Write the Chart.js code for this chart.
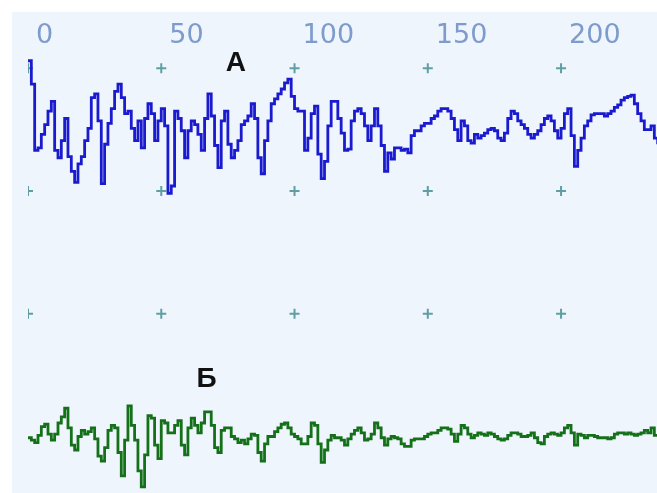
<!DOCTYPE html>
<html>
<head>
<meta charset="utf-8">
<script src="https://cdn.jsdelivr.net/npm/chart.js@4"></script>
<style>
  body { margin: 0; background: #fff; }
  #wrap {
    position: absolute; left: 12px; top: 12px;
    width: 645px; height: 481px;
    background: #eff5fc;
  }
</style>
</head>
<body>
<div id="wrap"><canvas id="sig"></canvas></div>
<script>
const xTicks = [0, 50, 100, 150, 200];
const markerRows = [100, 200, 300];
const STEP = 1.25;
const seriesNames = ["А", "Б"];

const seriesA = [
  306, 287, 233, 235, 246, 254, 265, 273, 233, 227,
  241, 259, 228, 216, 207, 222, 228, 241, 251, 276,
  279, 257, 206, 238, 255, 267, 281, 287, 276, 263,
  265, 251, 241, 257, 235, 259, 271, 263, 241, 257,
  267, 253, 198, 204, 265, 259, 249, 227, 249, 257,
  254, 246, 233, 259, 279, 261, 237, 219, 257, 265,
  238, 227, 233, 241, 254, 257, 261, 271, 259, 227,
  214, 241, 257, 271, 275, 279, 283, 288, 291, 277,
  267, 265, 265, 233, 243, 263, 269, 230, 210, 224,
  253, 273, 273, 259, 247, 233, 234, 257, 265, 267,
  263, 253, 241, 253, 267, 253, 237, 216, 231, 226,
  235, 235, 233, 234, 231, 245, 249, 249, 253, 255,
  255, 259, 261, 265, 267, 267, 265, 259, 250, 241,
  257, 253, 241, 239, 246, 243, 245, 247, 250, 251,
  249, 243, 241, 247, 259, 265, 263, 257, 254, 251,
  246, 243, 246, 249, 254, 259, 261, 257, 249, 243,
  251, 263, 267, 245, 220, 233, 243, 253, 257, 262,
  263, 263, 263, 261, 263, 265, 268, 270, 274, 276,
  277, 278, 271, 263, 257, 250, 250, 253, 243, 238
];

const seriesB = [
  -1, -3, -5, 1, 8, 10, 2, -3, 2, 11,
  16, 23, 7, -7, -11, 0, 5, 2, 4, 7,
  -2, -16, -20, -9, 5, 9, 7, -13, -32, -3,
  25, 9, -3, -28, -41, -15, 17, 15, -7, -18,
  13, 11, 3, 3, 9, 13, -7, -15, 7, 15,
  9, 3, 11, 20, 20, 9, -9, -13, 5, 7,
  7, 0, -2, -5, -3, -6, -2, 2, 1, -13,
  -20, -6, 0, 0, 4, 7, 10, 11, 7, 2,
  0, -2, -6, -6, 0, 11, 9, -6, -21, -11,
  -3, 1, -1, -1, -3, -7, -2, 2, 5, 7,
  3, -3, -2, 2, 11, 7, -1, -7, -2, 0,
  -1, -2, -6, -8, -8, -3, -2, -2, -2, 0,
  2, 3, 3, 5, 7, 7, 6, 2, -4, 2,
  9, 7, 2, -1, 1, 3, 2, 1, 3, 2,
  0, -2, -3, -2, 1, 3, 3, 2, 0, 0,
  1, 3, -1, -5, -6, 0, 2, 3, 2, 1,
  3, 7, 9, 3, -7, 2, 1, -1, 1, 1,
  0, -1, -1, -1, -2, -1, 2, 3, 3, 2,
  3, 2, 1, 2, 3, 5, 3, 7, 1, 1
];

const toPoints = (vals) => vals.map((v, i) => ({ x: i * STEP, y: v }));

const markers = [];
markerRows.forEach((r) => xTicks.forEach((t) => markers.push({ x: t, y: r })));

// series names drawn next to the traces
const nameLabels = {
  id: "nameLabels",
  afterDatasetsDraw(chart) {
    const { ctx, scales } = chart;
    const spots = [[78, 304], [67, 47]];
    ctx.save();
    ctx.fillStyle = "#111";
    ctx.font = "bold 28px 'Liberation Sans', Arial, sans-serif";
    ctx.textAlign = "center";
    ctx.textBaseline = "middle";
    seriesNames.forEach((name, i) => {
      ctx.fillText(name, scales.x.getPixelForValue(spots[i][0]), scales.y.getPixelForValue(spots[i][1]));
    });
    ctx.restore();
  }
};

new Chart(document.getElementById("sig"), {
  type: "line",
  data: {
    datasets: [
      {
        label: "grid",
        type: "scatter",
        data: markers,
        pointStyle: "cross",
        pointRadius: 5,
        borderWidth: 2,
        borderColor: "#5f9ea3",
        clip: 0,
        order: 3
      },
      {
        label: seriesNames[0],
        data: toPoints(seriesA),
        stepped: true,
        borderColor: "#1a1acf",
        borderWidth: 2.8,
        pointRadius: 0,
        order: 1
      },
      {
        label: seriesNames[1],
        data: toPoints(seriesB),
        stepped: true,
        borderColor: "#15701a",
        borderWidth: 2.8,
        pointRadius: 0,
        order: 2
      }
    ]
  },
  options: {
    responsive: true,
    maintainAspectRatio: false,
    animation: false,
    layout: { autoPadding: false, padding: { left: 16, top: 7, right: 0, bottom: 0 } },
    plugins: { legend: { display: false }, tooltip: { enabled: false } },
    scales: {
      x: {
        type: "linear",
        position: "top",
        min: 0,
        max: 236,
        grid: { display: false, drawTicks: false },
        border: { display: false },
        ticks: {
          stepSize: 50,
          includeBounds: false,
          align: "start",
          labelOffset: 8,
          padding: 1,
          color: "#7d9bcc",
          font: { family: "'DejaVu Sans', Verdana, sans-serif", size: 27 }
        }
      },
      y: {
        display: false,
        min: -46,
        max: 312
      }
    }
  },
  plugins: [nameLabels]
});
</script>
</body>
</html>
